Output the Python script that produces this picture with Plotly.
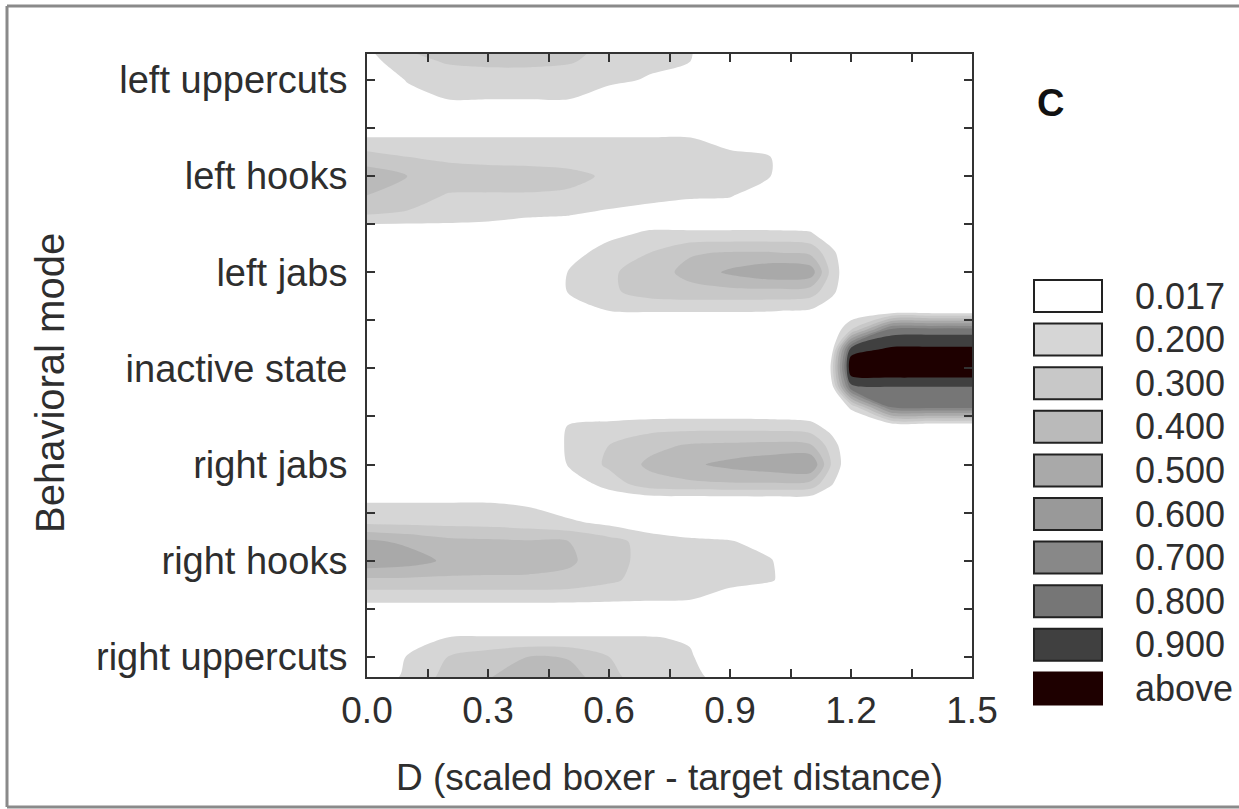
import numpy as np
import plotly.graph_objects as go

# ---------------- data ----------------
modes = ["right uppercuts", "right hooks", "right jabs", "inactive state",
         "left jabs", "left hooks", "left uppercuts"]

# D values (columns of the density grid)
x_grid = [0.0, 0.1, 0.2, 0.3, 0.4, 0.5, 0.6, 0.7, 0.8, 0.9, 1.0, 1.1, 1.15, 1.2, 1.3, 1.4, 1.5]
# offsets (in category units) of the grid rows belonging to each mode
row_offsets = [-0.4, -0.2, 0.0, 0.2, 0.4]

right_uppercuts = [
    [0.02, 0.12, 0.28, 0.34, 0.42, 0.42, 0.28, 0.16, 0.08, 0.02, 0, 0, 0, 0, 0, 0, 0],
    [0.00, 0.06, 0.23, 0.29, 0.36, 0.35, 0.22, 0.12, 0.06, 0.01, 0, 0, 0, 0, 0, 0, 0],
    [0.00, 0.03, 0.20, 0.25, 0.30, 0.29, 0.20, 0.10, 0.04, 0.00, 0, 0, 0, 0, 0, 0, 0],
    [0.00, 0.00, 0.02, 0.03, 0.03, 0.03, 0.03, 0.028, 0.015, 0, 0, 0, 0, 0, 0, 0, 0],
    [0, 0, 0, 0, 0, 0, 0, 0, 0, 0, 0, 0, 0, 0, 0, 0, 0],
]
right_hooks = [
    [0.06, 0.06, 0.06, 0.06, 0.06, 0.055, 0.045, 0.035, 0.025, 0.01, 0, 0, 0, 0, 0, 0, 0],
    [0.28, 0.28, 0.28, 0.28, 0.28, 0.27, 0.22, 0.12, 0.08, 0.07, 0.04, 0, 0, 0, 0, 0, 0],
    [0.48, 0.45, 0.38, 0.36, 0.35, 0.32, 0.23, 0.15, 0.10, 0.06, 0.03, 0, 0, 0, 0, 0, 0],
    [0.42, 0.38, 0.33, 0.32, 0.31, 0.30, 0.24, 0.12, 0.06, 0.03, 0.01, 0, 0, 0, 0, 0, 0],
    [0.16, 0.15, 0.14, 0.13, 0.10, 0.05, 0.012, 0.005, 0, 0, 0, 0, 0, 0, 0, 0, 0],
]
right_jabs = [
    [0.02, 0.02, 0.02, 0.02, 0.015, 0.005, 0, 0, 0, 0, 0, 0, 0, 0, 0, 0, 0],
    [0, 0, 0, 0, 0, 0.005, 0.10, 0.26, 0.28, 0.29, 0.29, 0.27, 0.04, 0, 0, 0, 0],
    [0, 0, 0, 0, 0, 0.03, 0.22, 0.32, 0.38, 0.43, 0.47, 0.50, 0.20, 0, 0, 0, 0],
    [0, 0, 0, 0, 0, 0.04, 0.20, 0.27, 0.31, 0.32, 0.33, 0.31, 0.12, 0, 0, 0, 0],
    [0, 0, 0, 0, 0, 0.03, 0.08, 0.12, 0.13, 0.13, 0.12, 0.08, 0.01, 0, 0, 0, 0],
]
inactive_state = [
    [0, 0, 0, 0, 0, 0, 0, 0, 0, 0, 0, 0, 0, 0.05, 0.72, 0.74, 0.74],
    [0, 0, 0, 0, 0, 0, 0, 0, 0, 0, 0, 0, 0, 0.76, 0.79, 0.79, 0.79],
    [0, 0, 0, 0, 0, 0, 0, 0, 0, 0, 0, 0, 0.02, 0.99, 1.00, 1.00, 1.00],
    [0, 0, 0, 0, 0, 0, 0, 0, 0, 0, 0, 0, 0, 0.85, 0.92, 0.92, 0.92],
    [0, 0, 0, 0, 0, 0, 0, 0, 0, 0, 0, 0, 0, 0.20, 0.75, 0.76, 0.76],
]
left_jabs = [
    [0, 0, 0, 0, 0, 0.005, 0.02, 0.03, 0.03, 0.03, 0.025, 0.015, 0.005, 0, 0, 0, 0],
    [0, 0, 0, 0, 0, 0.03, 0.16, 0.25, 0.27, 0.27, 0.27, 0.25, 0.08, 0, 0, 0, 0],
    [0, 0, 0, 0, 0, 0.025, 0.17, 0.25, 0.33, 0.42, 0.48, 0.46, 0.15, 0, 0, 0, 0],
    [0, 0, 0, 0, 0, 0.01, 0.10, 0.20, 0.29, 0.31, 0.31, 0.28, 0.08, 0, 0, 0, 0],
    [0, 0, 0, 0, 0, 0, 0.012, 0.05, 0.06, 0.06, 0.06, 0.04, 0.005, 0, 0, 0, 0],
]
left_hooks = [
    [0.20, 0.18, 0.16, 0.12, 0.05, 0.028, 0.012, 0.004, 0, 0, 0, 0, 0, 0, 0, 0, 0],
    [0.30, 0.24, 0.19, 0.19, 0.19, 0.18, 0.15, 0.12, 0.06, 0.04, 0, 0, 0, 0, 0, 0, 0],
    [0.36, 0.30, 0.24, 0.23, 0.23, 0.22, 0.18, 0.14, 0.10, 0.07, 0.02, 0, 0, 0, 0, 0, 0],
    [0.24, 0.20, 0.17, 0.16, 0.15, 0.14, 0.12, 0.10, 0.08, 0.06, 0.02, 0, 0, 0, 0, 0, 0],
    [0.021, 0.021, 0.021, 0.021, 0.021, 0.021, 0.021, 0.021, 0.021, 0.01, 0, 0, 0, 0, 0, 0, 0],
]
left_uppercuts = [
    [0, 0, 0, 0, 0, 0, 0, 0, 0, 0, 0, 0, 0, 0, 0, 0, 0],
    [0, 0.01, 0.018, 0.018, 0.018, 0.018, 0.005, 0, 0, 0, 0, 0, 0, 0, 0, 0, 0],
    [0, 0.03, 0.12, 0.13, 0.13, 0.12, 0.07, 0.015, 0, 0, 0, 0, 0, 0, 0, 0, 0],
    [0.01, 0.15, 0.21, 0.22, 0.22, 0.21, 0.14, 0.07, 0.025, 0, 0, 0, 0, 0, 0, 0, 0],
    [0.03, 0.22, 0.26, 0.27, 0.27, 0.26, 0.17, 0.09, 0.03, 0, 0, 0, 0, 0, 0, 0, 0],
]

level_values = [0.017, 0.2, 0.3, 0.4, 0.5, 0.6, 0.7, 0.8, 0.9]
level_labels = ["0.017", "0.200", "0.300", "0.400", "0.500", "0.600", "0.700", "0.800", "0.900", "above"]
level_colors = ["#ffffff", "#d6d6d6", "#c8c8c8", "#bababa", "#a9a9a9",
                "#999999", "#888888", "#767676", "#404040", "#1e0000"]
x_ticks = [0.0, 0.3, 0.6, 0.9, 1.2, 1.5]

# ---------------- build grid ----------------
blocks = [right_uppercuts, right_hooks, right_jabs, inactive_state,
          left_jabs, left_hooks, left_uppercuts]
y_vals, z_rows = [], []
for k, block in enumerate(blocks):
    for off, row in zip(row_offsets, block):
        y_vals.append(k + off)
        z_rows.append(row)
z = np.array(z_rows, dtype=float)

# map density onto band index so the non-uniform levels become uniform contours
xp = [0.0] + level_values + [1.0]
fp = list(range(len(xp)))
z_band = np.interp(z, xp, fp)

n = len(level_colors)
colorscale = [[i / (n - 1), c] for i, c in enumerate(level_colors)]

fig = go.Figure(go.Contour(
    x=x_grid, y=y_vals, z=z_band,
    autocontour=False,
    contours=dict(start=1, end=9, size=1, coloring="fill", showlines=False),
    colorscale=colorscale, showscale=False,
    line=dict(width=0, smoothing=0.8),
    hoverinfo="skip",
))

W, H = 1239, 809
L, R, T, B = 367, 972, 54, 677


def px(xp_):
    return (xp_ - L) / (R - L)


def py(yp_):
    return (B - yp_) / (B - T)


FONT = "Liberation Sans, Arial, sans-serif"
TXT = "#2e2e2e"
TICKC = "#333"
fig.update_layout(
    width=W, height=H,
    margin=dict(l=L, r=W - R, t=T, b=H - B),
    paper_bgcolor="white", plot_bgcolor="white",
    font=dict(family=FONT, size=37, color=TXT),
    showlegend=False,
)
fig.update_xaxes(
    range=[0, 1.5], tickvals=x_ticks, tickformat=".1f",
    tickfont=dict(size=37),
    ticks="inside", ticklen=8, tickwidth=2, tickcolor=TICKC,
    showline=True, linecolor=TICKC, linewidth=2, mirror="allticks",
    showgrid=False, zeroline=False,
    minor=dict(dtick=0.15, tick0=0, ticks="inside", ticklen=8, tickwidth=2, tickcolor=TICKC),
    title=dict(text="D (scaled boxer - target distance)", standoff=34, font=dict(size=37)),
)
fig.update_yaxes(
    range=[-0.21, 6.27], tickvals=list(range(len(modes))), ticktext=modes,
    tickfont=dict(size=38),
    ticks="inside", ticklen=8, tickwidth=2, tickcolor=TICKC,
    showline=True, linecolor=TICKC, linewidth=2, mirror="allticks",
    showgrid=False, zeroline=False,
    minor=dict(tickvals=[i + 0.5 for i in range(len(modes) - 1)], ticks="inside",
               ticklen=8, tickwidth=2, tickcolor=TICKC),
    ticklabelstandoff=10,
)

shapes = []
annotations = []
# outer frame of the figure panel
for (x0, y0, x1, y1) in [(7, 6, W + 5, 6), (7, 6, 7, 807), (7, 807, W + 5, 807)]:
    shapes.append(dict(type="line", xref="paper", yref="paper",
                       x0=px(x0), y0=py(y0), x1=px(x1), y1=py(y1),
                       line=dict(color="#8a8a8a", width=3)))

# y-axis title
annotations.append(dict(xref="paper", yref="paper", x=px(50), y=py(383),
                        xanchor="center", yanchor="middle", showarrow=False,
                        textangle=-90, text="Behavioral mode",
                        font=dict(family=FONT, size=40, color=TXT)))

# legend of contour levels
for i, (lab, col) in enumerate(zip(level_labels, level_colors)):
    yc = 296 + i * 43.6
    edge = col if lab == "above" else "#222"
    shapes.append(dict(type="rect", xref="paper", yref="paper",
                       x0=px(1034), x1=px(1102), y0=py(yc + 16), y1=py(yc - 16),
                       fillcolor=col, line=dict(color=edge, width=2)))
    annotations.append(dict(xref="paper", yref="paper", x=px(1133), y=py(yc),
                            xanchor="left", yanchor="middle", showarrow=False,
                            text=lab, font=dict(family=FONT, size=36, color=TXT)))

annotations.append(dict(xref="paper", yref="paper", x=px(1050), y=py(103),
                        xanchor="center", yanchor="middle", showarrow=False,
                        text="<b>C</b>", font=dict(family=FONT, size=38, color="#111")))

fig.update_layout(shapes=shapes, annotations=annotations)
fig.write_html("out.html", post_script="document.body.style.margin='0';",
               config={"displayModeBar": False})
